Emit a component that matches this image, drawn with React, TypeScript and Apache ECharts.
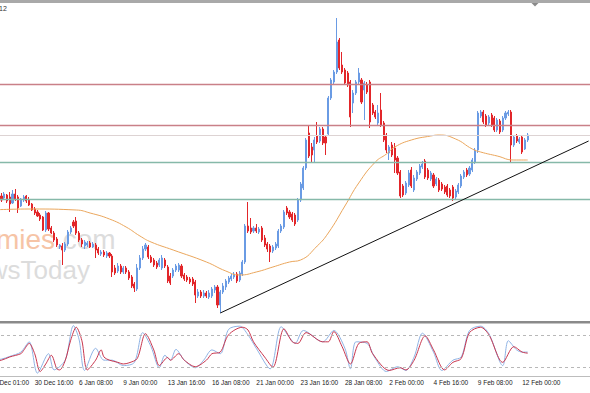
import React, { useEffect, useRef } from "react";
import * as echarts from "echarts";

// ---- data (price in points, stochastic in %) ----
const SLOT_COUNT = 217;
const SLOTS = Array.from({ length: SLOT_COUNT }, (_, i) => String(i));

const TICK_INDEX = [0, 16, 32, 48, 64, 80, 96, 112, 128, 144, 160, 176, 192];
const TICK_LABELS = [
  "29 Dec 01:00", "30 Dec 16:00", "6 Jan 08:00", "9 Jan 00:00", "13 Jan 16:00",
  "16 Jan 08:00", "21 Jan 00:00", "23 Jan 16:00", "28 Jan 08:00", "2 Feb 00:00",
  "4 Feb 16:00", "9 Feb 08:00", "12 Feb 00:00",
];

// [open, close, low, high]
const BARS: number[][] = [
  [200,203,198,206],[203,201,199,205],[201,205,199,207],[205,202,200,208],
  [204,200,198,207],[202,206,201,208],[205,199,197,206],[203,196,188,208],[197,206,196,210],
  [206,201,199,211],[203,192,187,205],[194,201,193,202],[200,203,198,205],[204,199,197,205],
  [200,195,194,203],[196,190,189,197],[191,187,185,193],[188,184,183,190],[185,181,179,187],
  [183,170,169,184],[170,187,168,189],[187,171,169,188],[172,167,166,174],[167,160,158,169],
  [161,155,153,163],[153,155,151,156],[154,150,135,157],[150,156,148,158],[156,168,154,170],
  [168,172,166,174],[178,174,172,180],[179,167,165,183],[167,160,158,169],[160,156,153,162],
  [154,158,151,160],[155,157,153,159],[157,153,152,159],[153,156,152,158],[155,150,142,157],
  [151,147,145,153],[146,148,144,150],[148,145,143,150],[144,147,142,149],[147,144,142,148],
  [144,128,123,146],[132,127,125,135],[129,134,127,137],[134,128,126,136],[128,132,126,134],
  [132,128,126,134],[128,122,120,130],[123,114,112,125],[116,112,108,118],[111,132,109,136],
  [132,142,130,145],[142,151,140,154],[151,155,149,157],[153,143,141,155],[143,138,137,145],
  [140,135,133,142],[137,133,131,139],[135,140,133,142],[132,142,130,145],[140,134,132,142],
  [133,119,117,135],[124,117,115,127],[124,130,122,132],[130,134,128,136],[130,135,128,137],
  [134,124,122,136],[125,121,119,127],[123,120,118,125],[121,118,116,123],[121,116,114,123],
  [118,105,97,120],[104,108,102,111],[108,104,102,110],[104,107,102,110],[107,104,102,109],
  [103,107,101,110],[104,111,102,113],[110,113,107,115],[113,95,92,115],[95,108,87,110],
  [108,114,106,117],[113,119,110,121],[118,122,116,124],[121,124,119,126],[123,126,121,128],
  [126,119,117,128],[120,127,118,129],[126,138,124,140],[138,174,136,176],[174,169,167,198],
  [172,168,166,182],[169,172,167,174],[172,169,167,176],[168,171,166,173],[172,160,158,174],
  [162,155,153,165],[156,151,148,158],[154,148,138,156],[149,153,147,155],[152,156,150,158],
  [154,169,152,171],[169,174,167,176],[173,188,171,190],[192,187,185,194],[188,183,181,190],
  [186,180,178,188],[185,176,174,187],[180,200,178,202],[200,216,198,218],[212,232,210,234],
  [232,260,230,262],[267,244,242,275],[253,245,237,257],[250,260,238,263],[264,258,256,278],
  [259,271,257,273],[271,257,255,273],[263,257,245,265],[266,302,264,304],[302,320,300,322],
  [318,328,316,330],[328,358,326,382],[360,332,330,362],[335,328,326,348],[330,317,315,332],
  [327,315,313,329],[318,283,273,320],[297,307,287,310],[307,318,305,320],[318,327,316,332],
  [320,298,296,322],[310,317,280,319],[315,308,306,318],[318,278,272,320],[295,287,285,297],
  [288,283,281,290],[277,287,275,295],[290,275,273,307],[277,260,258,279],[265,250,247,267],
  [247,253,240,255],[255,245,243,258],[252,240,227,257],[242,227,225,244],[228,204,202,230],
  [214,205,203,216],[207,217,205,219],[215,227,213,230],[230,214,212,233],[210,222,208,225],
  [221,228,219,230],[227,234,225,236],[233,236,231,239],[239,223,221,241],[230,222,220,232],
  [221,227,219,229],[225,214,212,227],[216,221,214,223],[220,210,208,222],[216,211,209,218],
  [213,208,206,215],[214,205,203,216],[210,204,202,212],[213,202,199,215],[203,209,200,211],
  [208,215,206,217],[214,224,212,226],[223,228,221,230],[230,225,223,232],[226,232,224,234],
  [230,240,228,242],[238,250,236,252],[250,287,247,289],[284,288,282,290],[288,278,276,290],
  [284,275,273,286],[277,283,275,285],[285,275,273,287],[282,270,268,284],[270,280,268,282],
  [279,268,266,281],[270,282,268,284],[282,287,280,289],[286,288,284,290],[288,255,237,290],
  [255,263,253,265],[264,259,257,266],[258,261,256,263],[263,248,246,265],[251,260,250,262],
  [260,265,258,267],
];

// moving average: [slot, value]
const MA_POINTS: number[][] = [
  [0,190],[15,191],[31,190],[36,187],[43,181],[49,173],[54,164],[58,158],[66,150],[78,138],
  [85,129],[90,125],[96,128],[102,133],[108,138],[112,140],[118,154],[122,167],[128,194],
  [133,217],[139,238],[143,246],[146,253],[152,260],[159,264],[162,265],[168,261],[174,251],
  [177,248],[183,244],[189,240],[194,240],
];

const RESISTANCE = [316, 275];
const SUPPORT = [238, 201];
const BID_PRICE = 265;
const TREND_FROM = [83, 87];
const TREND_TO = [216, 259];

// stochastic %K (blue) and %D (red): [slot, value]
const STOCH_K: number[][] = [
  [0,33],[4,35],[7,40],[11,48],[14,67],[17,9],[21,45],[23,15],[27,33],[30,97],[32,72],[34,14],
  [38,55],[41,33],[44,33],[48,23],[52,29],[55,84],[58,58],[61,19],[63,42],[65,33],[67,53],
  [70,33],[74,19],[77,33],[80,52],[83,45],[86,90],[90,96],[93,80],[96,55],[101,17],[105,95],
  [108,75],[110,64],[113,88],[120,67],[124,88],[128,55],[130,17],[132,67],[136,64],[139,36],
  [143,12],[147,21],[150,14],[153,39],[156,83],[160,48],[163,14],[167,33],[170,39],[173,88],
  [177,96],[180,82],[185,23],[187,69],[190,52],[192,48],[194,48],
];
const STOCH_D: number[][] = [
  [0,30],[4,33],[7,39],[11,45],[12,51],[14,64],[16,45],[18,12],[20,26],[22,42],[24,17],[25,15],
  [27,32],[29,70],[31,94],[33,70],[35,15],[38,33],[40,52],[41,39],[43,33],[46,29],[48,26],
  [50,28],[53,36],[56,82],[59,52],[61,23],[64,38],[65,33],[68,45],[70,33],[74,21],[78,33],
  [80,45],[83,48],[86,80],[91,94],[93,89],[95,67],[99,39],[102,20],[106,91],[109,67],[111,64],
  [114,84],[120,67],[122,67],[124,86],[127,58],[130,26],[133,64],[136,67],[138,45],[144,14],
  [148,19],[150,15],[153,33],[157,78],[160,52],[164,15],[167,29],[170,36],[173,84],[177,94],
  [180,80],[185,29],[189,58],[192,48],[194,46],
];
const STOCH_LEVELS = [80, 20];

const BLUE = "#6a9be4";
const RED = "#e2262a";

export default function App() {
  const ref = useRef<HTMLDivElement>(null);
  useEffect(() => {
    if (!ref.current) return;
    const chart = echarts.init(ref.current, undefined, { renderer: "svg" });
    const hLines = [
      ...RESISTANCE.map((v) => ({ yAxis: v, lineStyle: { color: "#c98088", width: 1.3, type: "solid" } })),
      { yAxis: BID_PRICE, lineStyle: { color: "#ddd3d3", width: 1, type: "solid" } },
      ...SUPPORT.map((v) => ({ yAxis: v, lineStyle: { color: "#86b9a9", width: 1.3, type: "solid" } })),
    ];
    const option: any = {
      animation: false,
      backgroundColor: "#ffffff",
      grid: [
        { left: -11, right: 0, top: 3, height: 318, outerBoundsMode: "none", containLabel: false },
        { left: -11, right: 0, top: 324, height: 54, outerBoundsMode: "none", containLabel: false },
      ],
      xAxis: [
        { type: "category", gridIndex: 0, data: SLOTS, show: false },
        {
          type: "category",
          gridIndex: 1,
          data: SLOTS,
          axisLine: { show: false },
          axisTick: { show: false },
          splitLine: { show: false },
          axisLabel: {
            interval: (i: number) => TICK_INDEX.includes(i),
            formatter: (v: string) => {
              const p = TICK_INDEX.indexOf(Number(v));
              return p >= 0 ? TICK_LABELS[p] : "";
            },
            align: "left",
            fontSize: 6.5,
            fontFamily: "Liberation Sans",
            color: "#222",
            margin: 1,
          },
        },
      ],
      yAxis: [
        { type: "value", gridIndex: 0, min: 79, max: 397, show: false },
        { type: "value", gridIndex: 1, min: 0, max: 100, show: false },
      ],
      series: [
        {
          type: "candlestick",
          xAxisIndex: 0,
          yAxisIndex: 0,
          data: BARS,
          barWidth: 1.6,
          itemStyle: { color: BLUE, color0: RED, borderColor: BLUE, borderColor0: RED, borderWidth: 1 },
          markLine: {
            silent: true,
            symbol: ["none", "none"],
            label: { show: false },
            data: [
              ...hLines,
              [{ coord: TREND_FROM }, { coord: TREND_TO }],
            ],
            lineStyle: { color: "#111", width: 1, type: "solid" },
          },
        },
        {
          type: "line",
          xAxisIndex: 0,
          yAxisIndex: 0,
          data: MA_POINTS,
          smooth: 0.5,
          showSymbol: false,
          z: 3,
          lineStyle: { color: "#eaa65c", width: 1 },
        },
        {
          type: "line",
          xAxisIndex: 1,
          yAxisIndex: 1,
          data: STOCH_K,
          smooth: 0.3,
          showSymbol: false,
          lineStyle: { color: "#8fb3e4", width: 1 },
          markLine: {
            silent: true,
            symbol: ["none", "none"],
            label: { show: false },
            lineStyle: { color: "#b8b8b8", width: 1, type: [3, 3] },
            data: STOCH_LEVELS.map((v) => ({ yAxis: v })),
          },
        },
        {
          type: "line",
          xAxisIndex: 1,
          yAxisIndex: 1,
          data: STOCH_D,
          smooth: 0.3,
          showSymbol: false,
          lineStyle: { color: "#c8364e", width: 1 },
        },
      ],
      graphic: [
        { type: "text", x: 55, y: 239, silent: true, style: { text: "economies", fill: "#f6c4a6", fontSize: 28, fontFamily: "Liberation Sans", align: "right", verticalAlign: "middle" } },
        { type: "text", x: 55, y: 239, silent: true, style: { text: ".com", fill: "#dcdcdc", fontSize: 28, fontFamily: "Liberation Sans", align: "left", verticalAlign: "middle" } },
        { type: "text", x: 90, y: 270, silent: true, style: { text: "NewsToday", fill: "#dcdcdc", fontSize: 26, fontFamily: "Liberation Sans", align: "right", verticalAlign: "middle" } },
        { type: "rect", z: 100, shape: { x: 0, y: 0, width: 590, height: 3 }, style: { fill: "#a9a9a9" } },
        { type: "polygon", z: 101, shape: { points: [[531.5, 3], [538.5, 3], [535, 6.5]] }, style: { fill: "#8a8a8a" } },
        { type: "rect", z: 100, shape: { x: 0, y: 321, width: 590, height: 2.5 }, style: { fill: "#8a8a8a" } },
        { type: "line", z: 100, shape: { x1: 0, y1: 376.5, x2: 590, y2: 376.5 }, style: { stroke: "#bdbdbd", lineWidth: 1 } },
        { type: "text", z: 100, x: -1, y: 5, style: { text: "12", fill: "#333", fontSize: 7, fontFamily: "Liberation Sans", verticalAlign: "top" } },
      ],
    };
    chart.setOption(option);
    return () => chart.dispose();
  }, []);
  return (
    <div
      ref={ref}
      style={{ position: "fixed", left: 0, top: 0, width: 590, height: 393, background: "#fff" }}
    />
  );
}
